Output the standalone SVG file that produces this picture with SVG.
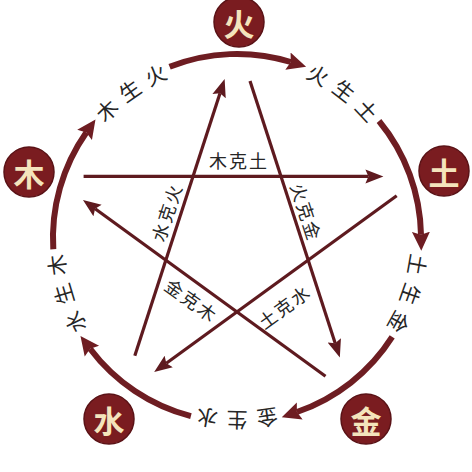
<svg xmlns="http://www.w3.org/2000/svg" width="472" height="472" viewBox="0 0 472 472">
<style>
.arc{fill:none;stroke:#6e1d22;stroke-width:6;marker-end:url(#ah)}
.star{fill:none;stroke:#5e1a1f;stroke-width:3.2;marker-end:url(#sh)}
.node circle{fill:#7a1c20;stroke:#5a1216;stroke-width:1.5}
.node text{font-family:"Noto Sans CJK SC","Noto Sans",sans-serif;font-weight:700;font-size:31px;fill:#f4e4bc;text-anchor:middle;dominant-baseline:central}
.lbl{font-family:"Noto Sans CJK SC","Noto Sans",sans-serif;font-size:21px;fill:#262626;letter-spacing:9.3px;dominant-baseline:central}
.slbl{font-family:"Noto Sans CJK SC","Noto Sans",sans-serif;font-size:18px;fill:#262626;letter-spacing:2px;text-anchor:middle;dominant-baseline:central}
</style>
<defs>
<marker id="ah" markerUnits="userSpaceOnUse" markerWidth="22" markerHeight="22" viewBox="0 -11 22 22" refX="3" refY="0" orient="auto"><path d="M0,-9 L19,0 L0,9 L3,0 z" fill="#6e1d22"/></marker>
<marker id="sh" markerUnits="userSpaceOnUse" markerWidth="20" markerHeight="20" viewBox="0 -10 20 20" refX="3" refY="0" orient="auto"><path d="M0,-7 L18,0 L0,7 L3,0 z" fill="#5e1a1f"/></marker>
<path id="t1" d="M99.3,117.5 A183,183 0 0 1 186.6,62.1"/>
<path id="t2" d="M309.1,69.8 A183,183 0 0 1 388.7,135.7"/>
<path id="t3" d="M419.3,254.6 A183,183 0 0 1 381.2,350.7"/>
<path id="t4" d="M277.5,416.4 A183,183 0 0 1 174.4,410.0"/>
<path id="t5" d="M79.8,331.7 A183,183 0 0 1 54.1,231.6"/>
</defs>
<g id="connectors">
<path class="arc" d="M169.6,66.8 A184,184 0 0 1 290.8,62.0"/>
<path class="arc" d="M379.0,121.0 A184,184 0 0 1 421.0,234.8"/>
<path class="arc" d="M392.2,336.9 A184,184 0 0 1 296.9,412.0"/>
<path class="arc" d="M190.9,416.1 A184,184 0 0 1 90.1,348.7"/>
<path class="arc" d="M53.3,249.2 A184,184 0 0 1 86.3,132.5"/>
<path class="star" d="M83.6,176.4 L368.4,176.4"/>
<path class="star" d="M250.0,80.9 L335.2,343.3"/>
<path class="star" d="M396.7,195.8 L166.3,363.3"/>
<path class="star" d="M134.8,355.7 L220.0,93.3"/>
<path class="star" d="M325.5,376.2 L95.1,208.7"/>
</g>
<g id="arc-labels">
<text class="lbl"><textPath href="#t1">木生火</textPath></text>
<text class="lbl"><textPath href="#t2">火生土</textPath></text>
<text class="lbl"><textPath href="#t3">土生金</textPath></text>
<text class="lbl"><textPath href="#t4">金生水</textPath></text>
<text class="lbl"><textPath href="#t5">水生木</textPath></text>
</g>
<g id="star-labels">
<text class="slbl" x="239" y="160">木克土</text>
<text class="slbl" x="0" y="0" transform="translate(307,212) rotate(72)">火克金</text>
<text class="slbl" x="0" y="0" transform="translate(166,212) rotate(-72)">水克火</text>
<text class="slbl" x="0" y="0" transform="translate(192,300) rotate(36)">金克木</text>
<text class="slbl" x="0" y="0" transform="translate(284,306) rotate(-36)">土克水</text>
</g>
<g id="node-fire" class="node"><circle cx="239" cy="22" r="25"/><text x="239" y="22">火</text></g>
<g id="node-earth" class="node"><circle cx="444" cy="171" r="25"/><text x="444" y="171">土</text></g>
<g id="node-metal" class="node"><circle cx="366" cy="419" r="25"/><text x="366" y="419">金</text></g>
<g id="node-water" class="node"><circle cx="109" cy="419" r="25"/><text x="109" y="419">水</text></g>
<g id="node-wood" class="node"><circle cx="29" cy="172" r="25"/><text x="29" y="172">木</text></g>
</svg>
